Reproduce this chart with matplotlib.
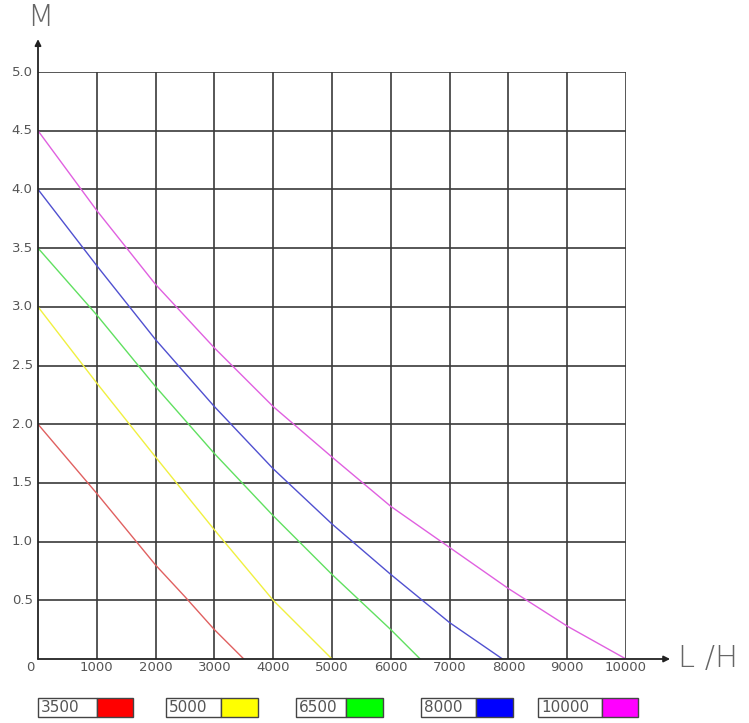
import matplotlib.pyplot as plt
from matplotlib.patches import Rectangle

# Flow (L/H) vs head (M) curves, one per pump model
flow_3500 = [0, 1000, 2000, 2500, 3000, 3500]
head_3500 = [2.0, 1.41, 0.80, 0.53, 0.25, 0.0]

flow_5000 = [0, 1000, 2000, 3000, 4000, 5000]
head_5000 = [3.0, 2.35, 1.72, 1.10, 0.50, 0.0]

flow_6500 = [0, 1000, 2000, 3000, 4000, 5000, 6000, 6500]
head_6500 = [3.5, 2.93, 2.32, 1.75, 1.22, 0.72, 0.25, 0.0]

flow_8000 = [0, 1000, 2000, 3000, 4000, 5000, 6000, 7000, 7900]
head_8000 = [4.0, 3.35, 2.72, 2.15, 1.62, 1.15, 0.72, 0.31, 0.0]

flow_10000 = [0, 1000, 2000, 3000, 4000, 5000, 6000, 7000, 8000, 9000, 10000]
head_10000 = [4.5, 3.82, 3.19, 2.65, 2.15, 1.72, 1.30, 0.95, 0.60, 0.28, 0.0]

models = ["3500", "5000", "6500", "8000", "10000"]
flows = [flow_3500, flow_5000, flow_6500, flow_8000, flow_10000]
heads = [head_3500, head_5000, head_6500, head_8000, head_10000]
colors = ["#ff0000", "#ffff00", "#00ff00", "#0000ff", "#ff00ff"]
line_colors = ["#e06060", "#f0f040", "#60e060", "#5050d0", "#e060e0"]

x_ticks = [1000, 2000, 3000, 4000, 5000, 6000, 7000, 8000, 9000, 10000]
y_ticks = [0.5, 1.0, 1.5, 2.0, 2.5, 3.0, 3.5, 4.0, 4.5, 5.0]

W, H = 749, 723
fig = plt.figure(figsize=(W / 100, H / 100), dpi=100)
ax = fig.add_axes([38 / W, 1 - 659 / H, (626 - 38) / W, (659 - 72) / H])

for f, h, c in zip(flows, heads, line_colors):
    ax.plot(f, h, color=c, lw=1.0, zorder=3)

ax.set_xlim(0, 10000)
ax.set_ylim(0, 5.0)

# Grid
grid_kw = dict(color="#3a3a3a", lw=1.2, zorder=1)
for xv in x_ticks:
    ax.axvline(xv, **grid_kw)
for yv in y_ticks:
    ax.axhline(yv, **grid_kw)

for s in ["top", "right", "left", "bottom"]:
    ax.spines[s].set_visible(False)
ax.set_xticks([])
ax.set_yticks([])

tick_kw = dict(color="#555555", fontsize=9.5)
for xv in x_ticks:
    ax.text(xv, -0.02, f"{xv}", ha="center", va="top", **tick_kw)
ax.text(-130, -0.02, "0", ha="center", va="top", **tick_kw)
for yv in y_ticks:
    ax.text(-90, yv, f"{yv:.1f}", ha="right", va="center", **tick_kw)

# Axes with arrows
ax.annotate("", xy=(0, 5.28), xytext=(0, 0), xycoords="data",
            arrowprops=dict(arrowstyle="-|>", color="#222222", lw=1.3,
                            mutation_scale=9, shrinkA=0, shrinkB=0),
            annotation_clip=False, zorder=4)
ax.annotate("", xy=(10750, 0), xytext=(0, 0), xycoords="data",
            arrowprops=dict(arrowstyle="-|>", color="#222222", lw=1.3,
                            mutation_scale=9, shrinkA=0, shrinkB=0),
            annotation_clip=False, zorder=4)

fig.text(40 / W, 1 - 18 / H, "M", ha="center", va="center",
         fontsize=22, color="#666666", fontweight="light")
fig.text(708 / W, 1 - 658 / H, "L /H", ha="center", va="center",
         fontsize=22, color="#666666", fontweight="light")

# Legend boxes
box_left = [38, 166, 296, 421, 538]
box_split = [97, 221, 346, 476, 602]
box_right = [133, 258, 383, 513, 638]
by0, by1 = 698, 717
for m, c, l, s, r in zip(models, colors, box_left, box_split, box_right):
    fig.patches.append(Rectangle((l / W, 1 - by1 / H), (s - l) / W, (by1 - by0) / H,
                                 transform=fig.transFigure, facecolor="white",
                                 edgecolor="#444444", lw=1.0))
    fig.patches.append(Rectangle((s / W, 1 - by1 / H), (r - s) / W, (by1 - by0) / H,
                                 transform=fig.transFigure, facecolor=c,
                                 edgecolor="#444444", lw=1.0))
    fig.text((l + 3) / W, 1 - (by0 + by1) / 2 / H, m, ha="left", va="center",
             fontsize=11, color="#555555")

fig.savefig("out.png", dpi=100)
